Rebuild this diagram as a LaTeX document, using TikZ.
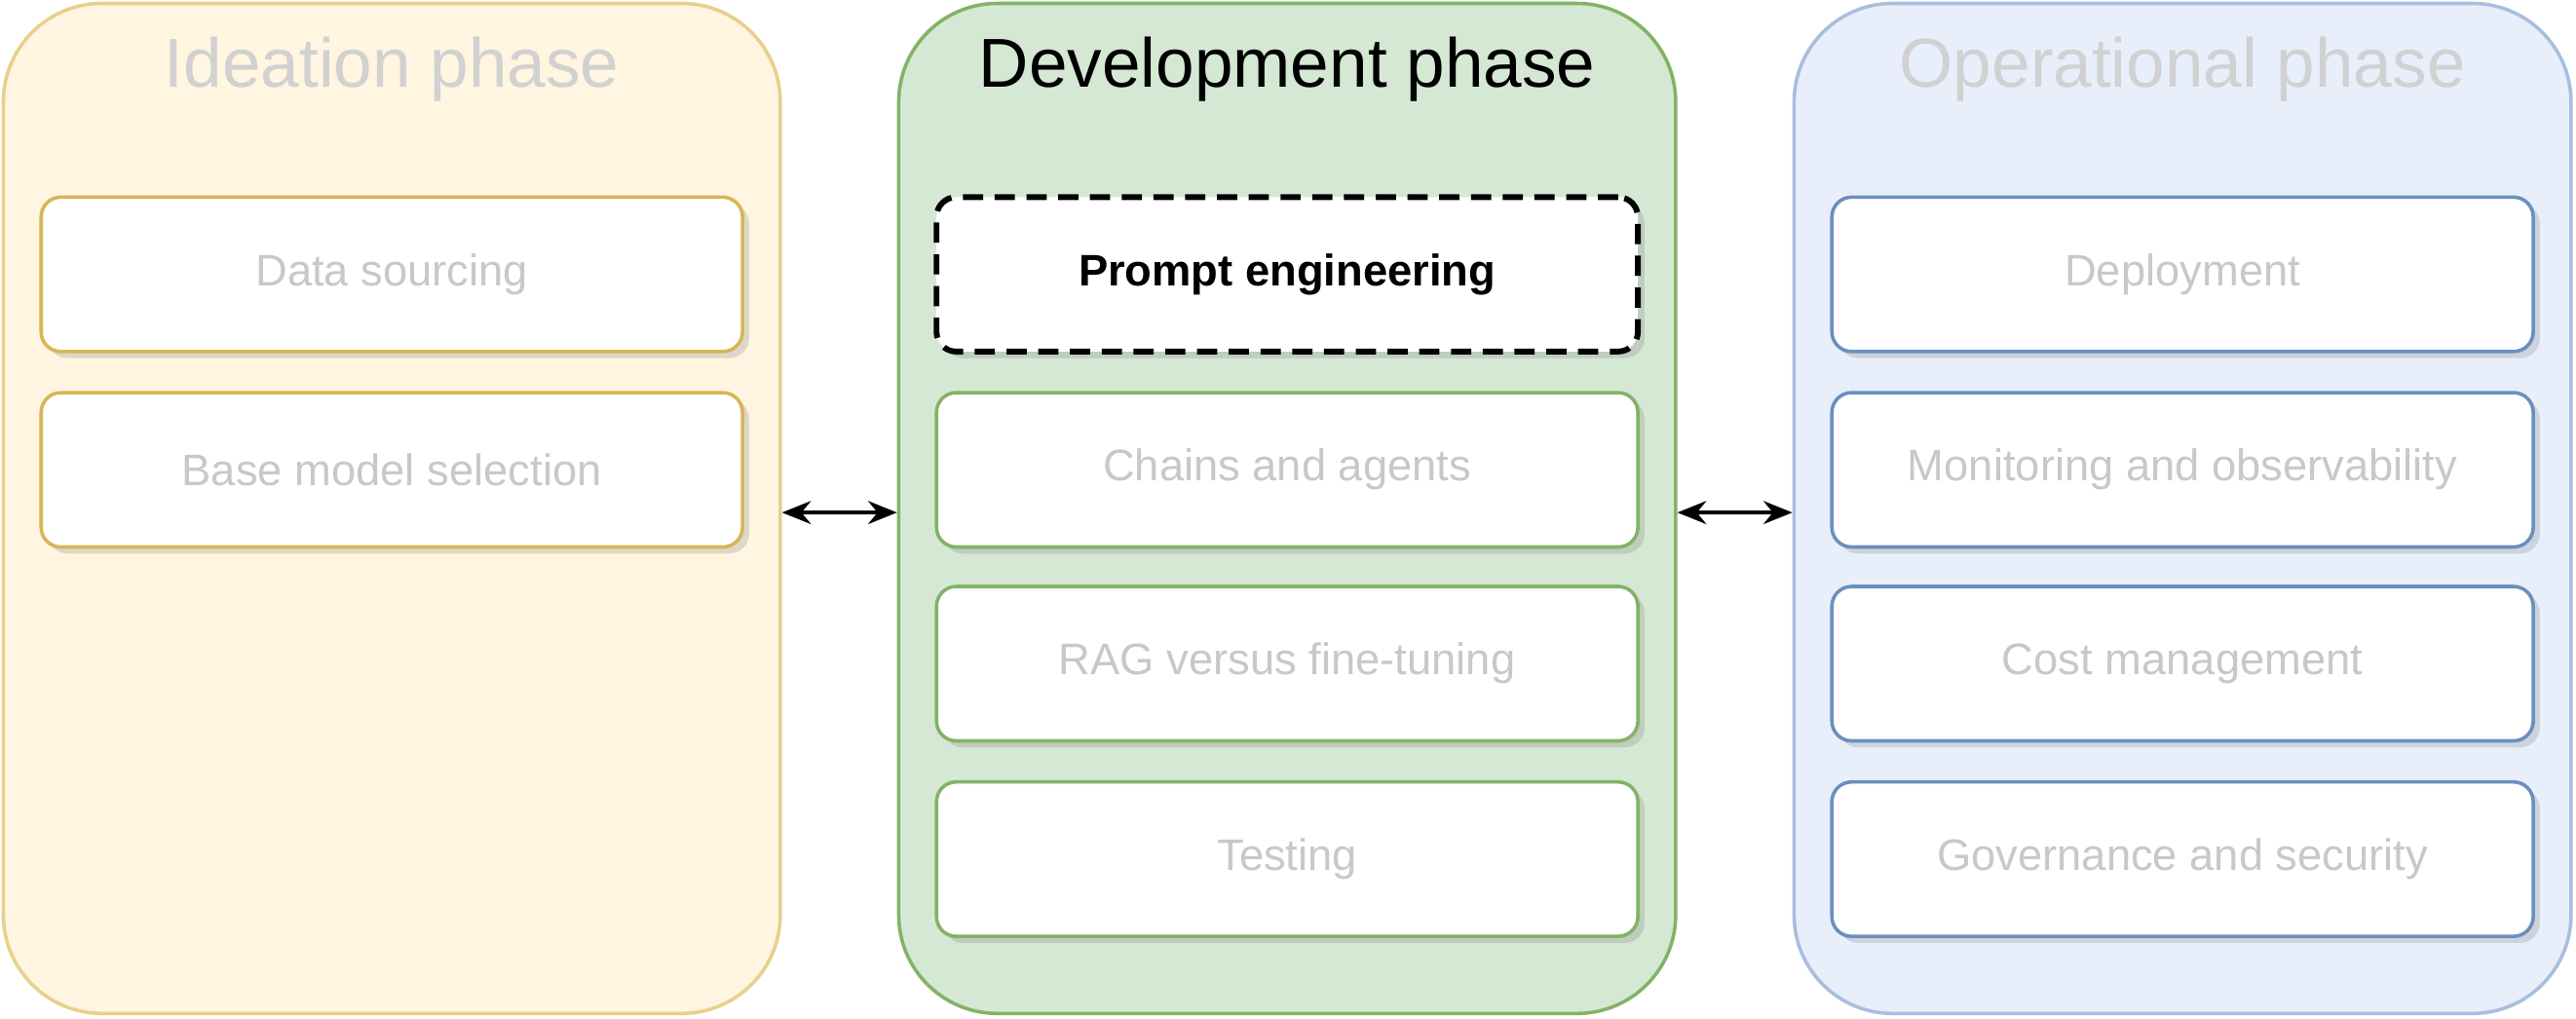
\documentclass[tikz,border=0pt]{standalone}
\usepackage{fontspec}
\setmainfont{Liberation Sans}
\usetikzlibrary{arrows.meta,shadows}
\definecolor{ideafill}{HTML}{FFF5E0}
\definecolor{ideadraw}{HTML}{E8D08C}
\definecolor{ideabox}{HTML}{D6B656}
\definecolor{devfill}{HTML}{D5E8D4}
\definecolor{devdraw}{HTML}{82B366}
\definecolor{opsfill}{HTML}{E8EFFB}
\definecolor{opsdraw}{HTML}{A9BEDF}
\definecolor{opsbox}{HTML}{6C8EBF}
\definecolor{faded}{HTML}{C8C8C8}
\tikzset{
  phase/.style={rounded corners=1.2cm,minimum width=9.46cm,minimum height=12.3cm,line width=1.2pt},
  title/.style={font=\fontsize{24}{28}\selectfont},
  task/.style={rounded corners=0.24cm,minimum width=8.54cm,minimum height=1.88cm,fill=white,line width=1.2pt,
    drop shadow={opacity=0.25,shadow xshift=0.08cm,shadow yshift=-0.08cm},text=faded,font=\fontsize{15.3}{18}\selectfont}
}
\begin{document}
\begin{tikzpicture}[x=0.02cm,y=-0.02cm]
\useasboundingbox (0,0) rectangle (1568,620);
\node[phase,draw=ideadraw,fill=ideafill] (idea) at (238.5,309.5) {};
\node[phase,draw=devdraw,fill=devfill] (dev) at (783.5,309.5) {};
\node[phase,draw=opsdraw,fill=opsfill] (ops) at (1328.5,309.5) {};
\node[title,text=black!18] (ideat) at (238.5,42) {Ideation phase};
\node[title] (devt) at (783.5,42) {Development phase};
\node[title,text=black!18] (opst) at (1328.5,42) {Operational phase};
% ideation
\node[task,draw=ideabox] (source) at (238.5,167) {Data sourcing};
\node[task,draw=ideabox] (base) at (238.5,286) {Base model selection};
% development
\node[task,draw=black,dashed,dash pattern=on 7pt off 4pt,line width=2pt,text=black,font=\fontsize{15.3}{18}\selectfont\bfseries] (prompt) at (783.5,167) {Prompt engineering};
\node[task,draw=devdraw] (chains) at (783.5,286) {Chains and agents};
\node[task,draw=devdraw] (rag) at (783.5,404) {RAG versus fine-tuning};
\node[task,draw=devdraw] (test) at (783.5,523) {Testing};
% operational
\node[task,draw=opsbox] (deploy) at (1328.5,167) {Deployment};
\node[task,draw=opsbox] (monitor) at (1328.5,286) {Monitoring and observability};
\node[task,draw=opsbox] (cost) at (1328.5,404) {Cost management};
\node[task,draw=opsbox] (gov) at (1328.5,523) {Governance and security};
\draw[{Stealth[length=10pt,width=8pt]}-{Stealth[length=10pt,width=8pt]},line width=1.2pt] (idea.east|-0,312) -- (dev.west|-0,312);
\draw[{Stealth[length=10pt,width=8pt]}-{Stealth[length=10pt,width=8pt]},line width=1.2pt] (dev.east|-0,312) -- (ops.west|-0,312);
\end{tikzpicture}
\end{document}
